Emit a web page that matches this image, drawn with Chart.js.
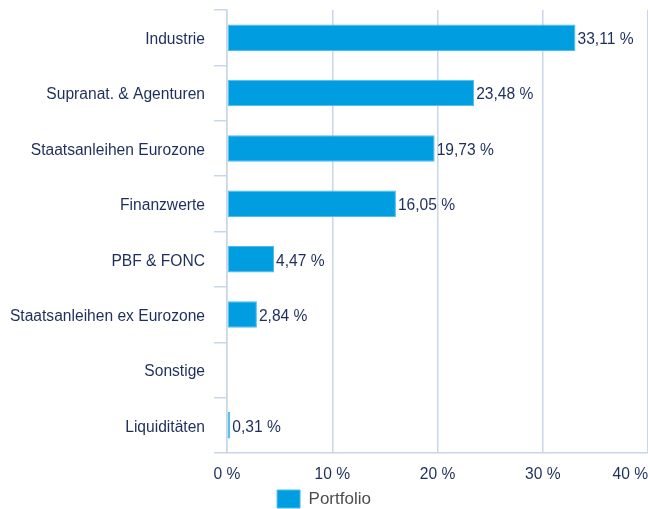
<!DOCTYPE html>
<html>
<head>
<meta charset="utf-8">
<script src="https://cdn.jsdelivr.net/npm/chart.js@4/dist/chart.umd.min.js"></script>
<style>
  html, body { margin: 0; padding: 0; background: #fff; }
  #wrap { width: 648px; height: 509px; }
</style>
</head>
<body>
<div id="wrap"><canvas id="myChart"></canvas></div>
<script>
// chart data
const categories = ['Industrie', 'Supranat. & Agenturen', 'Staatsanleihen Eurozone', 'Finanzwerte',
  'PBF & FONC', 'Staatsanleihen ex Eurozone', 'Sonstige', 'Liquiditäten'];
const portfolio = [33.11, 23.48, 19.73, 16.05, 4.47, 2.84, null, 0.31];
const xTicks = [0, 10, 20, 30, 40];

const navy = '#1f2f5c';
const gridCol = '#c9d6e8';
const font = "'Liberation Sans', Arial, sans-serif";
const fs = 15.6;

function fmt(v) {
  return v.toFixed(2).replace('.', ',') + ' %';
}

// value labels at the end of each bar + x tick labels (last one right aligned)
const labelsPlugin = {
  id: 'labelsPlugin',
  afterDraw(chart) {
    const ctx = chart.ctx;
    const meta = chart.getDatasetMeta(0);
    ctx.save();
    ctx.font = fs + 'px ' + font;
    ctx.fillStyle = navy;
    ctx.textBaseline = 'middle';
    ctx.textAlign = 'left';
    meta.data.forEach((bar, i) => {
      const v = portfolio[i];
      if (v == null) return;
      ctx.fillText(fmt(v), bar.x + 2, bar.y + 2);
    });
    const xs = chart.scales.x;
    const y = chart.chartArea.bottom + 22;
    xTicks.forEach((t, i) => {
      const px = xs.getPixelForValue(t);
      ctx.textAlign = i === xTicks.length - 1 ? 'right' : 'center';
      ctx.fillText(t + ' %', px, y);
    });
    ctx.restore();
  }
};

const ctx = document.getElementById('myChart');

new Chart(ctx, {
  type: 'bar',
  data: {
    labels: categories,
    datasets: [{
      label: 'Portfolio',
      data: portfolio,
      backgroundColor: '#009ee0',
      borderColor: '#4cbdec',
      borderWidth: 1,
      borderSkipped: false,
      categoryPercentage: 1,
      barPercentage: 0.48
    }]
  },
  options: {
    indexAxis: 'y',
    responsive: true,
    maintainAspectRatio: false,
    animation: false,
    layout: { padding: { top: 10, left: 0, right: 0, bottom: -9 } },
    scales: {
      x: {
        min: 0,
        max: 40,
        ticks: { stepSize: 10, color: 'transparent', padding: 14, font: { family: font, size: fs } },
        grid: { color: gridCol, lineWidth: 1.5, drawTicks: false },
        border: { display: true, color: gridCol, width: 1.5 },
        afterFit(scale) { scale.paddingRight = 0; scale.paddingLeft = 0; scale.height = 35; }
      },
      y: {
        ticks: { color: navy, padding: 9, labelOffset: 2, font: { family: font, size: fs } },
        grid: { color: gridCol, lineWidth: 1.5, drawOnChartArea: false, drawTicks: true, tickLength: 13 },
        border: { display: true, color: gridCol, width: 1.5 },
        afterFit(scale) { scale.width = 227; scale.paddingTop = 0; scale.paddingBottom = 0; }
      }
    },
    plugins: {
      legend: {
        position: 'bottom',
        labels: {
          color: '#4d4d4d',
          boxWidth: 23,
          boxHeight: 18,
          padding: 2,
          font: { family: font, size: 17 }
        }
      },
      tooltip: { enabled: false }
    }
  },
  plugins: [labelsPlugin]
});
</script>
</body>
</html>
